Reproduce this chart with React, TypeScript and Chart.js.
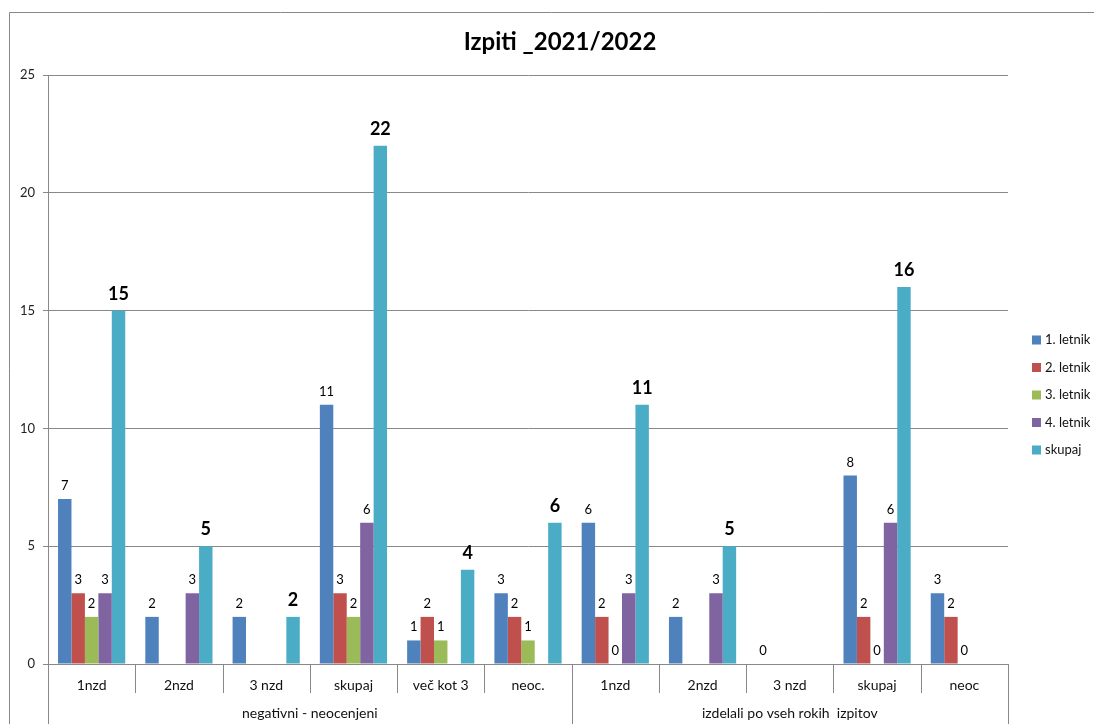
import React, { useEffect, useRef } from "react";
import { Chart, registerables } from "chart.js";

Chart.register(...registerables);

const categories = ["1nzd", "2nzd", "3 nzd", "skupaj", "več kot 3", "neoc.", "1nzd", "2nzd", "3 nzd", "skupaj", "neoc"];
const groupLabels = ["negativni - neocenjeni", "izdelali po vseh rokih  izpitov"];
const groupSizes = [6, 5];
const seriesNames = ["1. letnik", "2. letnik", "3. letnik", "4. letnik", "skupaj"];
const letnik1 = [7, 2, 2, 11, 1, 3, 6, 2, 0, 8, 3];
const letnik2 = [3, null, null, 3, 2, 2, 2, null, null, 2, 2];
const letnik3 = [2, null, null, 2, 1, 1, 0, null, null, 0, 0];
const letnik4 = [3, 3, null, 6, null, null, 3, 3, null, 6, null];
const skupaj = [15, 5, 2, 22, 4, 6, 11, 5, null, 16, null];
const colors = ["#4F81BD", "#C0504D", "#9BBB59", "#8064A2", "#4BACC6"];
const yTicks = { min: 0, max: 25, step: 5 };
const titleText = "Izpiti _2021/2022";

const FONT = "Lato, 'Open Sans', sans-serif";
const GRID = "#888888";

const decorPlugin = {
  id: "decor",
  beforeDraw(chart: any) {
    const ctx = chart.ctx;
    ctx.save();
    ctx.fillStyle = "#fff";
    ctx.fillRect(0, 0, chart.width, chart.height);
    ctx.strokeStyle = GRID;
    ctx.lineWidth = 1;
    ctx.beginPath();
    ctx.moveTo(9.5, chart.height);
    ctx.lineTo(9.5, 12.5);
    ctx.lineTo(chart.width, 12.5);
    ctx.stroke();
    ctx.restore();
  },
  afterDraw(chart: any) {
    const ctx = chart.ctx;
    const ca = chart.chartArea;
    const n = categories.length;
    const w = (ca.right - ca.left) / n;
    ctx.save();
    // title
    ctx.fillStyle = "#000";
    ctx.font = `bold 24px ${FONT}`;
    ctx.textAlign = "center";
    ctx.textBaseline = "middle";
    ctx.fillText(titleText, 560, 42);
    // x-axis separators
    ctx.strokeStyle = GRID;
    ctx.lineWidth = 1;
    const full = new Set<number>([0]);
    let acc = 0;
    groupSizes.forEach((g) => { acc += g; full.add(acc); });
    for (let i = 0; i <= n; i++) {
      const x = Math.round(ca.left + i * w) + 0.5;
      ctx.beginPath();
      ctx.moveTo(x, ca.bottom);
      ctx.lineTo(x, full.has(i) ? chart.height : ca.bottom + 29);
      ctx.stroke();
    }
    // category labels
    ctx.fillStyle = "#111";
    ctx.font = `14px ${FONT}`;
    categories.forEach((c, i) => {
      ctx.fillText(c, ca.left + (i + 0.5) * w, ca.bottom + 21);
    });
    // group labels
    let start = 0;
    groupLabels.forEach((g, gi) => {
      const x0 = ca.left + start * w;
      const x1 = ca.left + (start + groupSizes[gi]) * w;
      ctx.fillText(g, (x0 + x1) / 2, ca.bottom + 49);
      start += groupSizes[gi];
    });
    // legend
    ctx.textAlign = "left";
    ctx.font = `13px ${FONT}`;
    seriesNames.forEach((s, i) => {
      const y = 340 + i * 27.5;
      ctx.fillStyle = colors[i];
      ctx.fillRect(1032, y - 4.5, 9, 9);
      ctx.fillStyle = "#111";
      ctx.fillText(s, 1045, y);
    });
    ctx.restore();
  },
  afterDatasetsDraw(chart: any) {
    const ctx = chart.ctx;
    ctx.save();
    ctx.textAlign = "center";
    ctx.textBaseline = "alphabetic";
    ctx.fillStyle = "#000";
    chart.data.datasets.forEach((ds: any, di: number) => {
      const meta = chart.getDatasetMeta(di);
      const bold = di === 4;
      ctx.font = bold ? `bold 18px ${FONT}` : `13px ${FONT}`;
      meta.data.forEach((el: any, i: number) => {
        const v = ds.data[i];
        if (v === null || v === undefined) return;
        ctx.fillText(String(v), el.x, el.y - (bold ? 11 : 9));
      });
    });
    ctx.restore();
  },
};

export default function App() {
  const ref = useRef<HTMLCanvasElement>(null);
  useEffect(() => {
    if (!ref.current) return;
    const series = [letnik1, letnik2, letnik3, letnik4, skupaj];
    const chart = new Chart(ref.current, {
      type: "bar",
      data: {
        labels: categories,
        datasets: series.map((d, i) => ({
          label: seriesNames[i],
          data: d,
          backgroundColor: colors[i],
          borderWidth: 0,
          categoryPercentage: 0.77,
          barPercentage: 1,
        })),
      },
      options: {
        responsive: false,
        animation: false,
        layout: { padding: { left: 0, top: 75, right: 86, bottom: 60 } },
        plugins: { legend: { display: false }, title: { display: false }, tooltip: { enabled: false } },
        scales: {
          x: { display: false },
          y: {
            min: yTicks.min,
            max: yTicks.max,
            ticks: { stepSize: yTicks.step, padding: 8, color: "#222", font: { family: FONT, size: 13 } },
            grid: { color: GRID, tickLength: 5, lineWidth: 1 },
            border: { display: true, color: GRID },
            afterFit: (axis: any) => { axis.width = 48; },
          },
        },
      },
      plugins: [decorPlugin],
    } as any);
    return () => chart.destroy();
  }, []);
  return (
    <div style={{ position: "fixed", left: 0, top: 0, width: 1094, height: 724, background: "#fff" }}>
      <canvas ref={ref} width={1094} height={724} style={{ width: 1094, height: 724, display: "block" }} />
    </div>
  );
}
